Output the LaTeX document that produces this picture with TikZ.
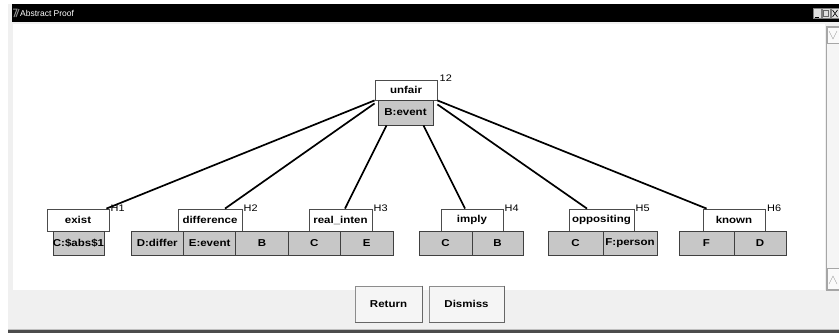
\documentclass[tikz,border=0pt]{standalone}
\usepackage{fontspec}
\setmainfont{Liberation Sans}
\newfontfamily\widefam[FakeStretch=1.15]{Liberation Sans}
\newcommand{\lblfont}{\widefam\fontsize{10}{11}\selectfont\bfseries}
\newcommand{\tagfont}{\widefam\fontsize{9.5}{10}\selectfont}
\begin{document}
\begin{tikzpicture}[x=1pt,y=-1pt,
  wbox/.style={draw=black!70, fill=white, line width=0.8pt, inner sep=0pt, font=\lblfont, minimum height=22pt},
  gcell/.style={draw=black!75, fill=black!22, line width=0.8pt, inner sep=0pt, font=\lblfont, minimum height=24pt},
  edgeline/.style={line width=1.7pt, black},
  tagl/.style={font=\tagfont, inner sep=0pt, anchor=west},
  winbtn/.style={draw=black!45, fill=black!4, line width=0.6pt, inner sep=0pt, font=\lblfont, minimum height=36pt},
  tbtn/.style={draw=black!50, fill=black!12, line width=0.5pt, inner sep=0pt, minimum width=8pt, minimum height=10pt}]
\useasboundingbox (0,0) rectangle (839,333);
% window frame
\fill[white] (0,0) rectangle (839,333);
\fill[black!6] (8,4) rectangle (839,333);
\fill[black] (12,4) rectangle (839,22);
\fill[black!70] (8,330) rectangle (839,333);
\draw[black!25] (8,329.5) -- (839,329.5);
% title
\draw[black!45, line width=1pt] (13,9) -- (17,9) -- (14,17);
\draw[black!45, line width=1pt] (19,9) -- (16,17);
\node[font=\fontsize{8.5}{9}\selectfont, text=white, anchor=west, inner sep=0pt] (title) at (20,13) {Abstract Proof};
\node[tbtn] (tmin) at (817,13.5) {};
\draw[black, line width=0.8pt] (814.5,17) -- (818.5,17);
\node[tbtn] (tmax) at (826,13.5) {};
\draw[black!60, line width=0.6pt] (823.5,10.5) rectangle (828.5,16.5);
\node[tbtn] (tclose) at (835,13.5) {};
\draw[black, line width=0.6pt] (832.5,10) -- (837.5,17) (837.5,10) -- (832.5,17);
% content area
\fill[white] (13,24) rectangle (825,290);
% scrollbar
\draw[black!35, fill=black!4] (826,26) rectangle (839,290);
\draw[black!35, fill=black!2] (827,27) rectangle (839,43);
\draw[black!40] (829,31) -- (833,39) -- (837,31);
\draw[black!35, fill=black!2] (827,268) rectangle (839,289);
\draw[black!40] (829,284) -- (833,276) -- (837,284);
% root
\node[wbox, minimum width=62pt, minimum height=20pt] (root) at (406,90) {unfair};
\node[gcell, minimum width=55pt, minimum height=25pt] (rootg) at (405.5,112.5) {B:event};
\node[tagl] (t12) at (439.5,78.5) {12};
% child 1
\node[wbox, minimum width=62pt] (exist) at (78,220) {exist};
\node[gcell, minimum width=51pt] (c1a) at (78.5,243) {C:\$abs\$1};
\node[tagl] (h1) at (110.5,208) {H1};
% child 2
\node[wbox, minimum width=64pt] (diff) at (210,220) {difference};
\node[gcell, minimum width=52.4pt] (c2a) at (157.2,243) {D:differ};
\node[gcell, minimum width=52.4pt] (c2b) at (209.6,243) {E:event};
\node[gcell, minimum width=52.4pt] (c2c) at (262,243) {B};
\node[tagl] (h2) at (243.5,208) {H2};
% child 3
\node[wbox, minimum width=63pt] (real) at (340.5,220) {real\_inten};
\node[gcell, minimum width=52.4pt] (c3a) at (314.4,243) {C};
\node[gcell, minimum width=52.4pt] (c3b) at (366.8,243) {E};
\node[tagl] (h3) at (373.5,208) {H3};
% child 4
\node[wbox, minimum width=62pt] (imply) at (472,220) {imply};
\node[gcell, minimum width=53pt] (c4a) at (445.5,243) {C};
\node[gcell, minimum width=51pt] (c4b) at (497.5,243) {B};
\node[tagl] (h4) at (504.5,208) {H4};
% child 5
\node[wbox, minimum width=65pt] (opp) at (601.5,220) {oppositing};
\node[gcell, minimum width=55pt] (c5a) at (575.5,243) {C};
\node[gcell, minimum width=54pt] (c5b) at (630,243) {F:person};
\node[tagl] (h5) at (635.5,208) {H5};
% child 6
\node[wbox, minimum width=62pt] (known) at (734,220) {known};
\node[gcell, minimum width=55pt] (c6a) at (706.5,243) {F};
\node[gcell, minimum width=52pt] (c6b) at (760,243) {D};
\node[tagl] (h6) at (767,208) {H6};
% connectors
\draw[edgeline] (root.south west) -- ([xshift=-3pt]exist.north east);
\draw[edgeline] ([yshift=-3pt]root.south west) -- ([xshift=15pt]diff.north);
\draw[edgeline] ([xshift=-19pt]rootg.south) -- ([xshift=4.5pt]real.north);
\draw[edgeline] ([xshift=18pt]rootg.south) -- ([xshift=-7pt]imply.north);
\draw[edgeline] ([yshift=-4pt]root.south east) -- ([xshift=-14.5pt]opp.north);
\draw[edgeline] (root.south east) -- ([xshift=4pt]known.north west);
% buttons
\node[winbtn, minimum width=67pt] (ret) at (388.5,304) {Return};
\node[winbtn, minimum width=75pt] (dis) at (466.5,304) {Dismiss};
\draw[black!60, line width=0.8pt] (ret.north east) -- (ret.south east) -- (ret.south west);
\draw[black!60, line width=0.8pt] (dis.north east) -- (dis.south east) -- (dis.south west);
\end{tikzpicture}
\end{document}
